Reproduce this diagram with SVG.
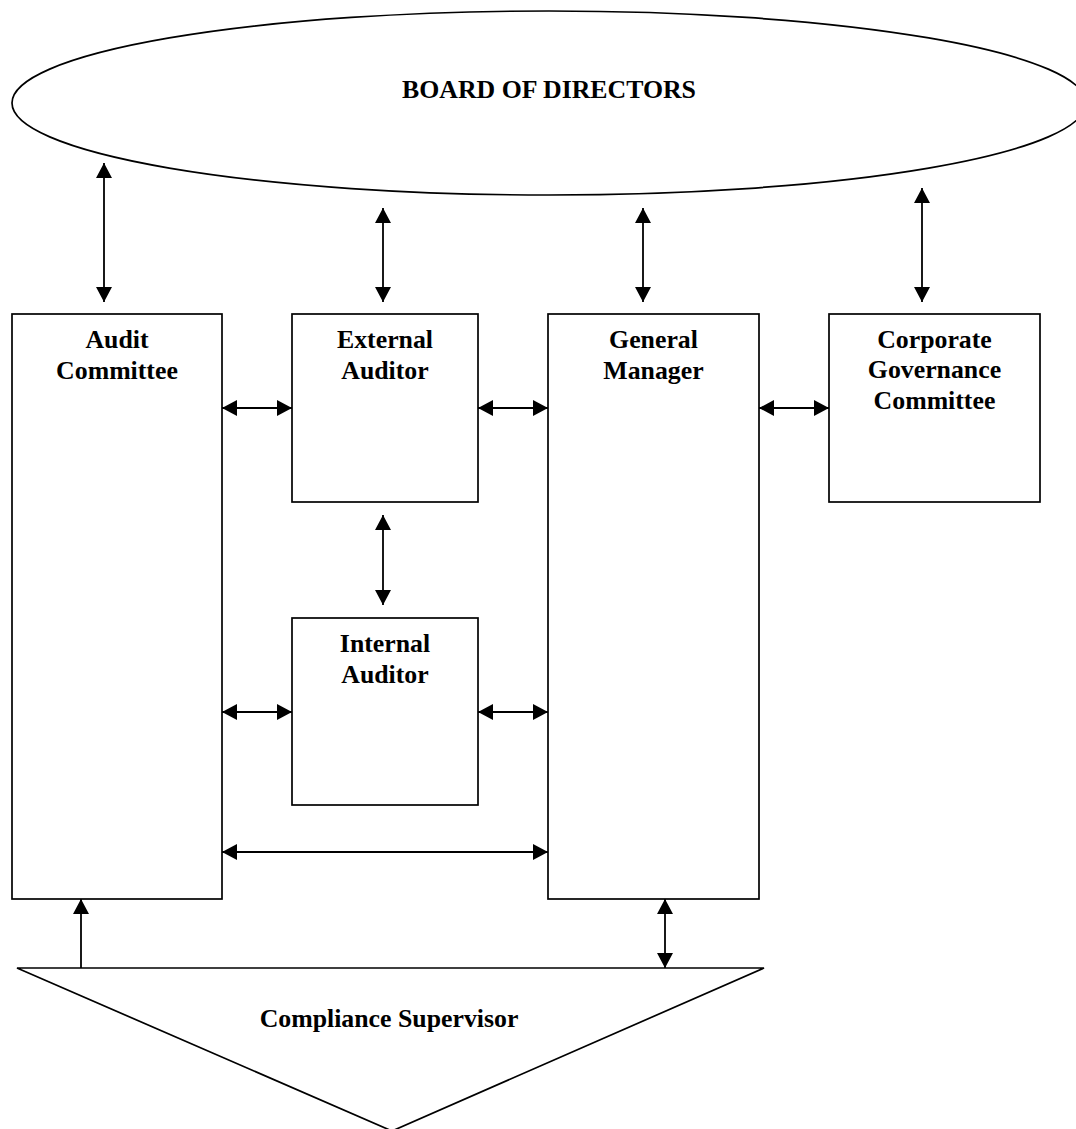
<svg xmlns="http://www.w3.org/2000/svg" width="1076" height="1129" viewBox="0 0 1076 1129">
<style>
.shape{fill:#fff;stroke:#000;stroke-width:1.7}
.lbl{font-family:"Liberation Serif","Times New Roman",serif;font-weight:bold;font-size:25.8px;fill:#000;text-anchor:middle}
.conn{stroke:#000;stroke-width:1.8;fill:none}
</style>
<defs>
<marker id="ah" markerUnits="userSpaceOnUse" markerWidth="16" markerHeight="16" viewBox="0 0 16 16" refX="15" refY="8" orient="auto-start-reverse">
<path d="M0,0 L15,8 L0,16 Z" fill="#000"/>
</marker>
</defs>
<rect width="1076" height="1129" fill="#fff"/>
<g id="board">
<ellipse class="shape" cx="549" cy="103" rx="537" ry="92"/>
<text class="lbl" x="549" y="98">BOARD OF DIRECTORS</text>
</g>
<g id="audit-committee">
<rect class="shape" x="12" y="314" width="210" height="585"/>
<text class="lbl" x="117" y="348">Audit</text>
<text class="lbl" x="117" y="379">Committee</text>
</g>
<g id="external-auditor">
<rect class="shape" x="292" y="314" width="186" height="188"/>
<text class="lbl" x="385" y="348">External</text>
<text class="lbl" x="385" y="379">Auditor</text>
</g>
<g id="general-manager">
<rect class="shape" x="548" y="314" width="211" height="585"/>
<text class="lbl" x="653.5" y="348">General</text>
<text class="lbl" x="653.5" y="379">Manager</text>
</g>
<g id="corporate-governance-committee">
<rect class="shape" x="829" y="314" width="211" height="188"/>
<text class="lbl" x="934.5" y="348">Corporate</text>
<text class="lbl" x="934.5" y="378">Governance</text>
<text class="lbl" x="934.5" y="409">Committee</text>
</g>
<g id="internal-auditor">
<rect class="shape" x="292" y="618" width="186" height="187"/>
<text class="lbl" x="385" y="652">Internal</text>
<text class="lbl" x="385" y="683">Auditor</text>
</g>
<g id="compliance-supervisor">
<polygon class="shape" points="17,968 764,968 392,1131"/>
<text class="lbl" x="389" y="1027">Compliance Supervisor</text>
</g>
<g id="connectors">
<line class="conn" x1="104" y1="163" x2="104" y2="302" marker-start="url(#ah)" marker-end="url(#ah)"/>
<line class="conn" x1="383" y1="208" x2="383" y2="302" marker-start="url(#ah)" marker-end="url(#ah)"/>
<line class="conn" x1="643" y1="208" x2="643" y2="302" marker-start="url(#ah)" marker-end="url(#ah)"/>
<line class="conn" x1="922" y1="188" x2="922" y2="302" marker-start="url(#ah)" marker-end="url(#ah)"/>
<line class="conn" x1="222" y1="408" x2="292" y2="408" marker-start="url(#ah)" marker-end="url(#ah)"/>
<line class="conn" x1="478" y1="408" x2="548" y2="408" marker-start="url(#ah)" marker-end="url(#ah)"/>
<line class="conn" x1="759" y1="408" x2="829" y2="408" marker-start="url(#ah)" marker-end="url(#ah)"/>
<line class="conn" x1="383" y1="515" x2="383" y2="605" marker-start="url(#ah)" marker-end="url(#ah)"/>
<line class="conn" x1="222" y1="712" x2="292" y2="712" marker-start="url(#ah)" marker-end="url(#ah)"/>
<line class="conn" x1="478" y1="712" x2="548" y2="712" marker-start="url(#ah)" marker-end="url(#ah)"/>
<line class="conn" x1="222" y1="852" x2="548" y2="852" marker-start="url(#ah)" marker-end="url(#ah)"/>
<line class="conn" x1="81" y1="968" x2="81" y2="899" marker-end="url(#ah)"/>
<line class="conn" x1="665" y1="899" x2="665" y2="968" marker-start="url(#ah)" marker-end="url(#ah)"/>
</g>
</svg>
